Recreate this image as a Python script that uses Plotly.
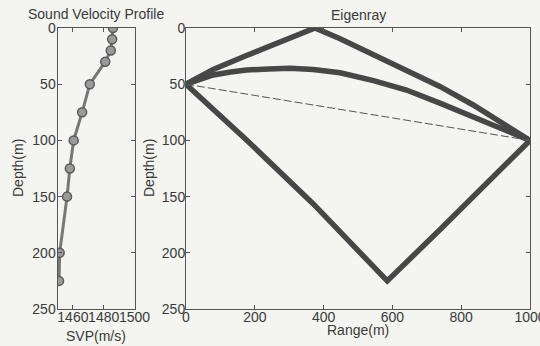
import plotly.graph_objects as go

# Sound velocity profile (depth in m, speed in m/s)
svp_depth = [0, 10, 20, 30, 50, 75, 100, 125, 150, 200, 225]
svp_speed = [1486, 1485.5, 1484.6, 1481, 1471, 1466, 1460.5, 1458, 1456.2, 1451.4, 1451]

# Eigenray paths (range in m, depth in m)
surf_range = [0, 79, 176, 273, 375, 448, 545, 641, 738, 835, 932, 1000]
surf_depth = [50, 37.0, 24.5, 12.2, 0, 9.5, 23.5, 37.5, 52, 68.5, 87.5, 100]

direct_range = [0, 40, 79, 130, 176, 240, 302, 370, 448, 545, 641, 738, 835, 932, 1000]
direct_depth = [50, 45.5, 41.8, 39.2, 37.4, 36.4, 35.9, 37.0, 39.8, 46.8, 55.2, 66.8, 78.9, 90.7, 100]

bottom_range = [0, 176, 370, 585, 738, 1000]
bottom_depth = [50, 99.6, 156.5, 225, 179.5, 100]

chord_range = [0, 1000]
chord_depth = [50, 100]

depth_ticks = [0, 50, 100, 150, 200, 250]
svp_ticks = [1460, 1480, 1500]
range_ticks = [0, 200, 400, 600, 800, 1000]

W, H = 540, 346
FONT = "Liberation Sans, Arial, sans-serif"
INK = "#3a3a3a"
RAY = "#474747"
BG = "#f4f4f1"

fig = go.Figure()

fig.add_trace(go.Scatter(
    x=svp_speed, y=svp_depth, mode="lines+markers",
    line=dict(color="#777777", width=3),
    marker=dict(symbol="circle", size=9, color="#9a9a9a",
                line=dict(color="#5a5a5a", width=1.5)),
    xaxis="x", yaxis="y", showlegend=False))

for rx, rz in [(surf_range, surf_depth), (direct_range, direct_depth),
               (bottom_range, bottom_depth)]:
    fig.add_trace(go.Scatter(
        x=rx, y=rz, mode="lines",
        line=dict(color=RAY, width=5.5),
        xaxis="x2", yaxis="y2", showlegend=False))

fig.add_trace(go.Scatter(
    x=chord_range, y=chord_depth, mode="lines",
    line=dict(color="#555555", width=1, dash="8px,3px"),
    xaxis="x2", yaxis="y2", showlegend=False))

t, b = 28, 37
ph = H - t - b


def ax(**kw):
    base = dict(showline=True, linecolor="#555555", linewidth=1, mirror="ticks",
                ticks="inside", ticklen=4, tickcolor="#555555", showgrid=False,
                zeroline=False, tickfont=dict(family=FONT, size=14, color=INK),
                tickangle=0, automargin=False, ticklabeloverflow="allow")
    base.update(kw)
    return base


fig.update_layout(
    width=W, height=H,
    margin=dict(l=0, r=0, t=t, b=b, autoexpand=False),
    paper_bgcolor=BG, plot_bgcolor=BG,
    xaxis=ax(domain=[57.5 / W, 134.5 / W], range=[1450, 1500], tickvals=svp_ticks,
             anchor="y", ticklabelstandoff=-5),
    yaxis=ax(domain=[0, 1], range=[250, 0], tickvals=depth_ticks, anchor="x",
             ticklabelstandoff=-2),
    xaxis2=ax(domain=[186 / W, 530 / W], range=[0, 1000], tickvals=range_ticks,
              anchor="y2", ticklabelstandoff=-5),
    yaxis2=ax(domain=[0, 1], range=[250, 0], tickvals=depth_ticks, anchor="x2",
              ticklabelstandoff=-3),
)

tfont = dict(family=FONT, size=14, color=INK)
annots = [
    dict(text="Sound Velocity Profile", x=96, y=14),
    dict(text="Eigenray", x=358, y=15),
    dict(text="SVP(m/s)", x=96, y=336),
    dict(text="Range(m)", x=358, y=330),
    dict(text="Depth(m)", x=18, y=168, textangle=-90),
    dict(text="Depth(m)", x=149, y=168, textangle=-90),
]
for a in annots:
    fig.add_annotation(
        text=a["text"], showarrow=False, font=tfont,
        xref="paper", yref="paper",
        x=a["x"] / W, y=(H - b - a["y"]) / ph,
        textangle=a.get("textangle", 0),
        xanchor="center", yanchor="middle")

fig.write_html("out.html")
